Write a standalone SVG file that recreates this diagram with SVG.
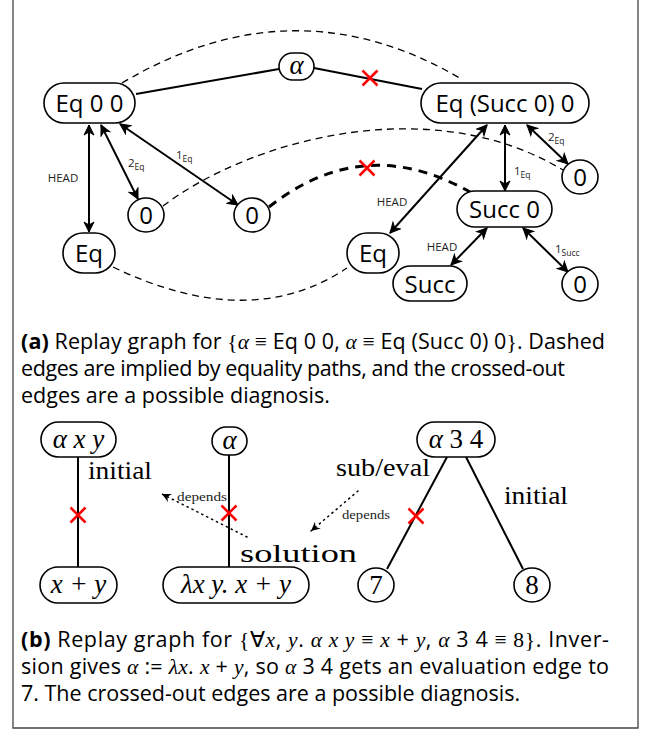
<svg xmlns="http://www.w3.org/2000/svg" width="652" height="731" viewBox="0 0 652 731">
<defs>
<marker id="ah" viewBox="-11 -6 13 12" refX="0" refY="0" markerWidth="13" markerHeight="12" markerUnits="userSpaceOnUse" orient="auto-start-reverse">
<path d="M0,0 L-10,-5 L-7,0 L-10,5 Z" fill="#000" stroke="#000" stroke-width="1" stroke-linejoin="miter"/>
</marker>
<marker id="dh" viewBox="-10 -6 12 12" refX="0" refY="0" markerWidth="12" markerHeight="12" markerUnits="userSpaceOnUse" orient="auto">
<path d="M0,0 L-9,-4.5 L-6,0 L-9,4.5 Z" fill="#000"/>
</marker>
<g id="x">
<path d="M-7.5,-7.5 L7.5,7.5 M-7.5,7.5 L7.5,-7.5" stroke="#ff0000" stroke-width="2.5" fill="none"/>
</g>
</defs>
<style>
.n{fill:#fff;stroke:#000;stroke-width:1.6}
.t{font-family:"Open Sans","Noto Sans",sans-serif;font-size:24px;text-anchor:middle;fill:#000}
.mi{font-family:"Liberation Serif",serif;font-style:italic}
.ms{font-family:"Liberation Serif",serif}
.e{stroke:#000;stroke-width:2;fill:none}
.ea{stroke:#000;stroke-width:2;fill:none;marker-start:url(#ah);marker-end:url(#ah)}
.d{stroke:#000;stroke-width:1.3;fill:none;stroke-dasharray:7 5}
.dt{stroke:#000;stroke-width:3;fill:none;stroke-dasharray:9 7}
.dot{stroke:#000;stroke-width:1.5;fill:none;stroke-dasharray:1.2 4.3;stroke-linecap:round;marker-end:url(#dh)}
.lb{font-family:"Open Sans","Noto Sans",sans-serif;font-size:11.5px;fill:#222}
.sub{font-size:8.5px}
.sl{font-family:"Liberation Serif",serif;font-size:26px;fill:#000}
.dl{font-family:"Liberation Serif",serif;font-size:13px;fill:#222}
.cap{font-family:"Open Sans","Noto Sans",sans-serif;font-size:21.5px;fill:#000}
.bt{font-family:"Liberation Serif",serif;font-style:italic;font-size:27px;text-anchor:middle;fill:#000}
.up{font-style:normal}
</style>
<path d="M13,0 V728 H638 V0" fill="none" stroke="#444" stroke-width="1.3"/>

<g id="connectors">
<path class="d" d="M122,83 Q295,-20 463,80"/>
<path class="d" d="M163,206 C250,140 430,90 563,170"/>
<path class="d" d="M113,267 Q250,333 347,268"/>
<path class="dt" d="M269,207 Q364,132 470,192"/>
<line class="e" x1="136" y1="94" x2="279" y2="69"/>
<line class="e" x1="314" y1="68" x2="422" y2="89" stroke-width="3"/>
<line class="ea" x1="89" y1="125" x2="89" y2="232"/>
<line class="ea" x1="101" y1="125" x2="138" y2="199"/>
<line class="ea" x1="120" y1="124" x2="238" y2="205"/>
<line class="ea" x1="487" y1="125" x2="390" y2="233"/>
<line class="ea" x1="505" y1="125" x2="505" y2="191"/>
<line class="ea" x1="527" y1="125" x2="568" y2="164"/>
<line class="ea" x1="487" y1="228" x2="451" y2="265"/>
<line class="ea" x1="523" y1="228" x2="568" y2="272"/>
<use href="#x" x="370" y="78"/>
<use href="#x" x="367" y="168"/>
<text class="lb" x="63" y="182" text-anchor="middle">HEAD</text>
<text class="lb" x="128" y="167">2<tspan class="sub" dy="3">Eq</tspan></text>
<text class="lb" x="176" y="159">1<tspan class="sub" dy="3">Eq</tspan></text>
<text class="lb" x="392" y="206" text-anchor="middle">HEAD</text>
<text class="lb" x="514" y="175">1<tspan class="sub" dy="3">Eq</tspan></text>
<text class="lb" x="548" y="141">2<tspan class="sub" dy="3">Eq</tspan></text>
<text class="lb" x="442" y="251" text-anchor="middle">HEAD</text>
<text class="lb" x="555" y="253">1<tspan class="sub" dy="3">Succ</tspan></text>

<line class="e" x1="78" y1="457" x2="78" y2="567"/>
<line class="e" x1="229" y1="455" x2="229" y2="567"/>
<line class="e" x1="447" y1="457" x2="387" y2="569"/>
<line class="e" x1="466" y1="457" x2="523" y2="569"/>
<use href="#x" x="78" y="515"/>
<use href="#x" x="229" y="513"/>
<use href="#x" x="416" y="516"/>
<path class="dot" d="M247,537 L162,494"/>
<path class="dot" d="M358,491 L311,531"/>
<text class="sl" x="88" y="479" textLength="64" lengthAdjust="spacingAndGlyphs">initial</text>
<text class="sl" x="240" y="562" textLength="117" lengthAdjust="spacingAndGlyphs">solution</text>
<text class="sl" x="336" y="476" textLength="94" lengthAdjust="spacingAndGlyphs">sub/eval</text>
<text class="sl" x="504" y="504" textLength="64" lengthAdjust="spacingAndGlyphs">initial</text>
<text class="dl" x="177" y="501" textLength="50" lengthAdjust="spacingAndGlyphs">depends</text>
<text class="dl" x="342" y="519" textLength="48" lengthAdjust="spacingAndGlyphs">depends</text>
</g>

<g id="n-eq00"><rect class="n" x="44" y="83" width="91" height="40" rx="20"/><text class="t" x="89.5" y="112">Eq 0 0</text></g>
<g id="n-alpha1"><rect class="n" x="279" y="53" width="35" height="27" rx="13.5"/><text class="bt" x="296.5" y="74">α</text></g>
<g id="n-eqs"><rect class="n" x="421" y="83" width="168" height="40" rx="20"/><text class="t" x="505" y="112">Eq (Succ 0) 0</text></g>
<g id="n-eqL"><rect class="n" x="63" y="233" width="52" height="40" rx="20"/><text class="t" x="89" y="262">Eq</text></g>
<g id="n-0a"><ellipse class="n" cx="146" cy="215" rx="18" ry="17"/><text class="t" x="146" y="224">0</text></g>
<g id="n-0b"><ellipse class="n" cx="252" cy="215" rx="18" ry="17"/><text class="t" x="252" y="224">0</text></g>
<g id="n-0c"><ellipse class="n" cx="580" cy="177" rx="18" ry="17"/><text class="t" x="580" y="186">0</text></g>
<g id="n-succ0"><rect class="n" x="457" y="191" width="95" height="36" rx="18"/><text class="t" x="504.5" y="218">Succ 0</text></g>
<g id="n-eqR"><rect class="n" x="347" y="233" width="52" height="40" rx="20"/><text class="t" x="373" y="262">Eq</text></g>
<g id="n-succ"><rect class="n" x="393" y="266" width="74" height="35" rx="17.5"/><text class="t" x="430" y="293">Succ</text></g>
<g id="n-0d"><ellipse class="n" cx="580" cy="284" rx="18" ry="17"/><text class="t" x="580" y="293">0</text></g>

<text class="cap" x="21" y="349" textLength="584"><tspan font-weight="bold">(a)</tspan> Replay graph for <tspan class="ms">{</tspan><tspan class="mi">α</tspan> <tspan class="ms">≡</tspan> Eq 0 0, <tspan class="mi">α</tspan> <tspan class="ms">≡</tspan> Eq (Succ 0) 0<tspan class="ms">}</tspan>. Dashed</text>
<text class="cap" x="21" y="376" textLength="544">edges are implied by equality paths, and the crossed-out</text>
<text class="cap" x="21" y="403">edges are a possible diagnosis.</text>

<g id="n-axy"><rect class="n" x="41" y="422" width="75" height="35" rx="17.5"/><text class="bt" x="78.5" y="448">α x y</text></g>
<g id="n-alpha2"><rect class="n" x="212" y="427" width="35" height="28" rx="14"/><text class="bt" x="229.5" y="449">α</text></g>
<g id="n-a34"><rect class="n" x="417" y="422" width="78" height="35" rx="17.5"/><text class="bt" x="456" y="448">α <tspan class="up">3 4</tspan></text></g>
<g id="n-xy"><rect class="n" x="40" y="567" width="77" height="36" rx="18"/><text class="bt" x="78.5" y="593">x + y</text></g>
<g id="n-lam"><rect class="n" x="163" y="567" width="146" height="36" rx="18"/><text class="bt" x="236" y="593">λx y. x + y</text></g>
<g id="n-7"><ellipse class="n" cx="376" cy="585" rx="18" ry="17"/><text class="bt" x="376" y="594" style="font-style:normal">7</text></g>
<g id="n-8"><ellipse class="n" cx="532" cy="585" rx="18" ry="17"/><text class="bt" x="532" y="594" style="font-style:normal">8</text></g>

<text class="cap" x="21" y="647" textLength="588"><tspan font-weight="bold">(b)</tspan> Replay graph for <tspan class="ms">{∀</tspan><tspan class="mi">x</tspan>, <tspan class="mi">y</tspan>. <tspan class="mi">α x y</tspan> <tspan class="ms">≡</tspan> <tspan class="mi">x</tspan> + <tspan class="mi">y</tspan>, <tspan class="mi">α</tspan> 3 4 <tspan class="ms">≡ 8}</tspan>. Inver-</text>
<text class="cap" x="21" y="674" textLength="588">sion gives <tspan class="mi">α</tspan> := <tspan class="mi">λx</tspan>. <tspan class="mi">x</tspan> + <tspan class="mi">y</tspan>, so <tspan class="mi">α</tspan> 3 4 gets an evaluation edge to</text>
<text class="cap" x="21" y="701">7. The crossed-out edges are a possible diagnosis.</text>
</svg>
